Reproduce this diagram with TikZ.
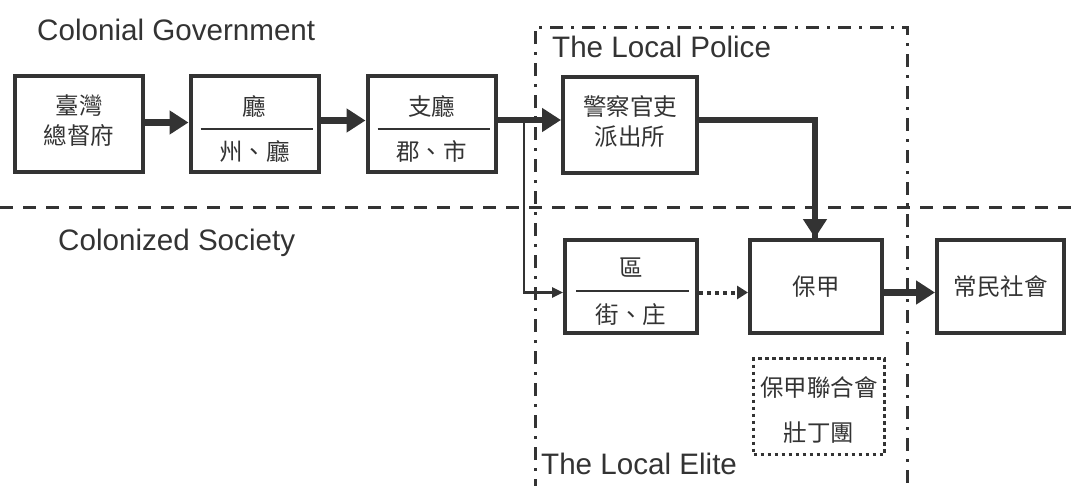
\documentclass[tikz,border=0pt]{standalone}
\usepackage{fontspec}
\setmainfont{Liberation Sans}
\newfontfamily\cjk{Noto Sans CJK TC}
\usetikzlibrary{arrows.meta,calc}
\definecolor{ink}{HTML}{333333}
\tikzset{
  box/.style={draw=ink, line width=4pt, minimum width=128pt, minimum height=96pt, inner sep=0pt, fill=white},
  cjktext/.style={text=ink, font=\cjk\fontsize{23.5}{30}\selectfont, align=center, inner sep=0pt},
  entext/.style={text=ink, font=\fontsize{29.6}{34}\selectfont, inner sep=0pt},
  divider/.style={draw=ink, line width=1.5pt},
  thick arrow/.style={draw=ink, line width=6.5pt, -{Triangle[length=19pt,width=23pt]}},
  thick line/.style={draw=ink, line width=6.5pt},
  thin arrow/.style={draw=ink, line width=2.5pt, -{Triangle[length=11pt,width=10pt]}},
  dotted arrow/.style={draw=ink, line width=4pt, dash pattern=on 4pt off 4pt, -{Triangle[length=11pt,width=13pt]}},
  sepline/.style={draw=ink, line width=3pt, dash pattern=on 13pt off 10pt},
  dashdotline/.style={draw=ink, line width=3pt, dash pattern=on 13pt off 8pt on 3pt off 8pt},
  dotbox/.style={draw=ink, line width=3.5pt, dash pattern=on 3.5pt off 3.5pt, minimum width=131pt, minimum height=96pt, inner sep=0pt},
}
\begin{document}
\begin{tikzpicture}[x=1pt,y=-1pt]
\useasboundingbox (0,0) rectangle (1074,485);
% region separators
\draw[sepline] (0,207) -- (1074,207);
\draw[dashdotline] (535,492) -- (535,27) -- (907,27) -- (907,492);
% headings
\node[entext, anchor=base west] (colgov) at (37,40) {Colonial Government};
\node[entext, anchor=base west] (colsoc) at (58,250) {Colonized Society};
\node[entext, anchor=base west] (police) at (552,57) {The Local Police};
\node[entext, anchor=base west] (elite) at (541,474) {The Local Elite};
% government boxes
\node[box] (b1) at (79,123.5) {};
\node[cjktext] (b1t) at (79,121) {臺灣\\總督府};
\node[box] (b2) at (254.5,123.5) {};
\node[cjktext] (b2t) at (254.5,106) {廳};
\node[cjktext] (b2b) at (254.5,151) {州、廳};
\draw[divider] ([xshift=12pt,yshift=-5.5pt]b2.west) -- ([xshift=-8pt,yshift=-5.5pt]b2.east);
\node[box] (b3) at (431.5,123.5) {};
\node[cjktext] (b3t) at (431.5,106) {支廳};
\node[cjktext] (b3b) at (431.5,151) {郡、市};
\draw[divider] ([xshift=12pt,yshift=-5.5pt]b3.west) -- ([xshift=-8pt,yshift=-5.5pt]b3.east);
\node[box, minimum width=134pt] (b4) at (630,125) {};
\node[cjktext] (b4t) at (630,122) {警察官吏\\派出所};
% society boxes
\node[box, minimum width=132pt, minimum height=93pt] (b5) at (631,286.5) {};
\node[cjktext] (b5t) at (631,268) {區};
\node[cjktext] (b5b) at (631,315) {街、庄};
\draw[divider] ([xshift=13pt,yshift=-4.5pt]b5.west) -- ([xshift=-10pt,yshift=-4.5pt]b5.east);
\node[box, minimum width=132pt, minimum height=93pt] (b6) at (816,286.5) {};
\node[cjktext] (b6t) at (816,286.5) {保甲};
\node[box, minimum width=127pt, minimum height=93pt] (b7) at (1000.5,286.5) {};
\node[cjktext] (b7t) at (1000.5,286.5) {常民社會};
\node[dotbox] (b8) at (819,406.5) {};
\node[cjktext] (b8t) at (819,388) {保甲聯合會};
\node[cjktext] (b8b) at (819,433) {壯丁團};
% connectors
\draw[thick arrow] ([yshift=1pt]b1.east) -- ([yshift=1pt]b2.west);
\draw[thick arrow] ([yshift=3pt]b2.east) -- ([yshift=3pt]b3.west);
\coordinate (branch) at (524,120);
\draw[thick arrow] (b3.east |- branch) -- (b4.west |- branch);
\draw[thin arrow] (branch) |- ([yshift=-6pt]b5.west);
\draw[thick line] (b4.east |- branch) -| ([xshift=-1pt]b6.north);
\draw[thick arrow] (815,200) -- ([xshift=-1pt]b6.north);
\draw[dotted arrow] ([yshift=-6pt]b5.east) -- ([yshift=-6pt]b6.west);
\draw[thick arrow] ([yshift=-6pt]b6.east) -- ([yshift=-6pt]b7.west);
\end{tikzpicture}
\end{document}
